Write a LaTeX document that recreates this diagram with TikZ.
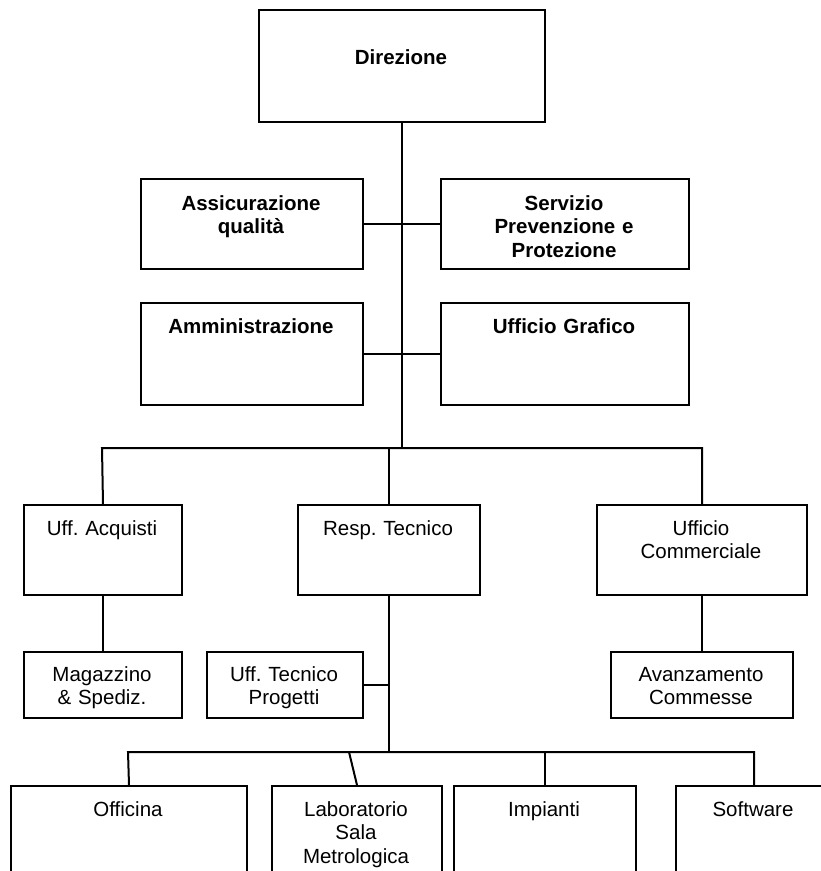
\documentclass[tikz,border=0pt]{standalone}
\usepackage{fontspec}
\setmainfont{Liberation Sans}
\begin{document}
\begin{tikzpicture}[x=1pt,y=-1pt,
  box/.style={draw=black, line width=2pt, fill=white, rectangle, inner sep=0pt, anchor=north west},
  lbl/.style={inner sep=0pt, text width=240pt, align=center, anchor=base, font=\fontsize{20.5}{23.5}\selectfont\frenchspacing},
  conn/.style={draw=black, line width=2pt}]
\clip (0,0) rectangle (821,871);
\fill[white] (0,0) rectangle (821,871);
% boxes
\node[box, minimum width=286pt, minimum height=112pt] (dir) at (258,9) {};
\node[box, minimum width=222pt, minimum height=90pt] (aq) at (140,178) {};
\node[box, minimum width=248pt, minimum height=90pt] (spp) at (440,178) {};
\node[box, minimum width=222pt, minimum height=102pt] (amm) at (140,302) {};
\node[box, minimum width=248pt, minimum height=102pt] (ug) at (440,302) {};
\node[box, minimum width=158pt, minimum height=90pt] (acq) at (23,504) {};
\node[box, minimum width=182pt, minimum height=90pt] (resp) at (297,504) {};
\node[box, minimum width=210pt, minimum height=90pt] (comm) at (596,504) {};
\node[box, minimum width=158pt, minimum height=66pt] (mag) at (23,651) {};
\node[box, minimum width=156pt, minimum height=66pt] (utp) at (206,651) {};
\node[box, minimum width=182pt, minimum height=66pt] (avz) at (610,651) {};
\node[box, minimum width=236pt, minimum height=130pt] (off) at (10,785) {};
\node[box, minimum width=170pt, minimum height=130pt] (lab) at (271,785) {};
\node[box, minimum width=182pt, minimum height=130pt] (imp) at (453,785) {};
\node[box, minimum width=156pt, minimum height=130pt] (sw) at (675,785) {};
% junction coordinates
\coordinate (busA) at (102,448);
\coordinate (busB) at (128,752);
\coordinate (labK) at (349,752);
% connectors
\draw[conn] (dir.south) -- (dir.south |- busA);
\draw[conn] (aq.east) -- (spp.west);
\draw[conn] (amm.east) -- (ug.west);
\draw[conn] (acq.north) -- (busA) -- (busA -| comm.north) -- (comm.north);
\draw[conn] (resp.north) -- (resp.north |- busA);
\draw[conn] (acq.south) -- (mag.north);
\draw[conn] (comm.south) -- (avz.north);
\draw[conn] (resp.south) -- (resp.south |- busB);
\draw[conn] (utp.east) -- (utp.east -| resp.south);
\draw[conn] (off.north) -- (busB) -- (busB -| sw.north) -- (sw.north);
\draw[conn] (imp.north) -- (imp.north |- busB);
\draw[conn] (lab.north) -- (labK);
% labels
\node[lbl] (tdir) at (401,64) {\textbf{Direzione}};
\node[lbl] (taq) at (251,210) {\textbf{Assicurazione}\\\textbf{qualità}};
\node[lbl] (tspp) at (564,210) {\textbf{Servizio}\\\textbf{Prevenzione e}\\\textbf{Protezione}};
\node[lbl] (tamm) at (251,333) {\textbf{Amministrazione}};
\node[lbl] (tug) at (564,333) {\textbf{Ufficio Grafico}};
\node[lbl] (tacq) at (102,535) {Uff. Acquisti};
\node[lbl] (tresp) at (388,535) {Resp. Tecnico};
\node[lbl] (tcomm) at (701,535) {Ufficio\\Commerciale};
\node[lbl] (tmag) at (102,681) {Magazzino\\\& Spediz.};
\node[lbl] (tutp) at (284,681) {Uff. Tecnico\\Progetti};
\node[lbl] (tavz) at (701,681) {Avanzamento\\Commesse};
\node[lbl] (toff) at (128,816) {Officina};
\node[lbl] (tlab) at (356,816) {Laboratorio\\Sala\\Metrologica};
\node[lbl] (timp) at (544,816) {Impianti};
\node[lbl] (tsw) at (753,816) {Software};
\end{tikzpicture}
\end{document}
